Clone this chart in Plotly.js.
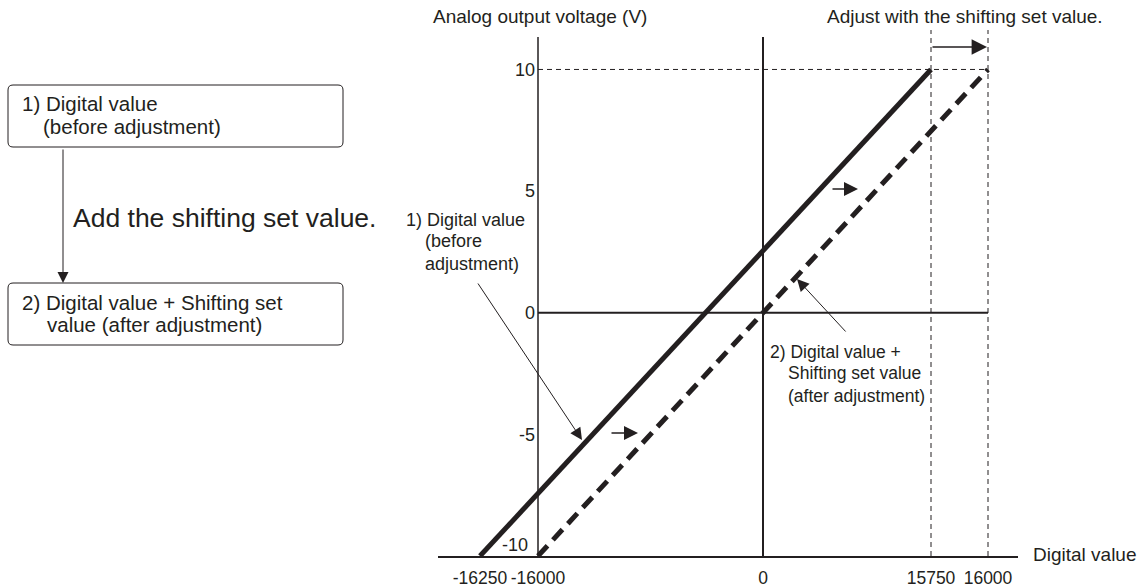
<!DOCTYPE html>
<html>
<head>
<meta charset="utf-8">
<script src="https://cdn.plot.ly/plotly-3.0.1.min.js"></script>
<style>
  body { margin: 0; background: #fff; }
  #chart { width: 1142px; height: 588px; }
</style>
</head>
<body>
<div id="chart"></div>
<script>
// digital values marked on the x axis and where they sit on the drawing (not to scale)
var digitalTicks = [-16250, -16000, 0, 15750, 16000];
var drawnAt = [-20124, -16000, 0, 11947, 16000];
var voltTicks = [-5, 0, 5, 10];

// 1) before adjustment and 2) after adding the shifting set value
var beforeDigital = [-16250, 15750];
var afterDigital = [-16000, 16000];
var outputVolt = [-10, 10];

var ink = '#231f20';
var font = 'Liberation Sans, Arial, sans-serif';

function place(d) {
    return drawnAt[digitalTicks.indexOf(d)];
}

// plot area in page pixels
var L = 438, R = 1018, T = 30, B = 556;
function px(x) { return (x - L) / (R - L); }
function py(y) { return (B - y) / (B - T); }

function roundBox(x0, y0, x1, y1, r) {
    var p = function (x, y) { return px(x) + ',' + py(y); };
    return 'M' + p(x0 + r, y0) + ' L' + p(x1 - r, y0) + ' Q' + p(x1, y0) + ' ' + p(x1, y0 + r) +
        ' L' + p(x1, y1 - r) + ' Q' + p(x1, y1) + ' ' + p(x1 - r, y1) +
        ' L' + p(x0 + r, y1) + ' Q' + p(x0, y1) + ' ' + p(x0, y1 - r) +
        ' L' + p(x0, y0 + r) + ' Q' + p(x0, y0) + ' ' + p(x0 + r, y0) + ' Z';
}

function label(text, x, y, size, anchor) {
    return {
        text: text, xref: 'paper', yref: 'paper', x: px(x), y: py(y),
        xanchor: anchor || 'left', yanchor: 'middle', align: 'left', showarrow: false,
        font: {family: font, size: size, color: ink}
    };
}

function arrow(x0, y0, x1, y1, size, width) {
    return {
        text: '', xref: 'paper', yref: 'paper', x: px(x1), y: py(y1),
        ax: x0 - x1, ay: y0 - y1, showarrow: true,
        arrowhead: 2, arrowsize: size, arrowwidth: width, arrowcolor: ink
    };
}

var before = {
    x: beforeDigital.map(place),
    y: outputVolt,
    mode: 'lines',
    line: {color: ink, width: 5},
    hoverinfo: 'skip'
};

var after = {
    x: afterDigital.map(place),
    y: outputVolt,
    mode: 'lines',
    line: {color: ink, width: 5, dash: '14px,8px'},
    hoverinfo: 'skip'
};

var data = [before, after];

var shapes = [
    // zero lines and left axis
    {type: 'line', xref: 'x', yref: 'y', x0: place(-16000), x1: place(16000), y0: 0, y1: 0,
        line: {color: ink, width: 2}, layer: 'below'},
    {type: 'line', xref: 'x', yref: 'y', x0: 0, x1: 0, y0: -10, y1: 11.33,
        line: {color: ink, width: 2}, layer: 'below'},
    {type: 'line', xref: 'x', yref: 'y', x0: place(-16000), x1: place(-16000), y0: -10, y1: 11.33,
        line: {color: ink, width: 1.5}, layer: 'below'},
    // dashed guides
    {type: 'line', xref: 'x', yref: 'y', x0: place(-16000), x1: place(16000), y0: 10, y1: 10,
        line: {color: ink, width: 1, dash: '5px,4px'}, layer: 'below'},
    {type: 'line', xref: 'x', yref: 'paper', x0: place(15750), x1: place(15750), y0: 0, y1: 1,
        line: {color: ink, width: 1, dash: '5px,4px'}, layer: 'below'},
    {type: 'line', xref: 'x', yref: 'paper', x0: place(16000), x1: place(16000), y0: 0, y1: 1,
        line: {color: ink, width: 1, dash: '5px,4px'}, layer: 'below'},
    // flow boxes on the left
    {type: 'path', xref: 'paper', yref: 'paper', path: roundBox(8, 85, 343, 147, 5),
        line: {color: ink, width: 1}},
    {type: 'path', xref: 'paper', yref: 'paper', path: roundBox(8, 283, 343, 345, 5),
        line: {color: ink, width: 1}}
];

var annotations = [
    label('Analog output voltage (V)', 649, 17, 19, 'right'),
    label('Adjust with the shifting set value.', 1105, 17, 19, 'right'),
    label('Digital value', 1031, 554, 19),
    label('-10', 530, 545, 18, 'right'),
    label('1) Digital value', 404, 220, 18),
    label('(before<br>adjustment)', 423, 252.5, 18),
    label('2) Digital value +', 768, 352, 17.5),
    label('Shifting set value<br>(after adjustment)', 786, 384, 17.5),
    label('1) Digital value', 20, 104, 20.5),
    label('(before adjustment)', 41, 126, 20.5),
    label('2) Digital value + Shifting set', 20, 302, 20.5),
    label('value (after adjustment)', 45, 324, 20.5),
    label('Add the shifting set value.', 71, 218, 26.5),
    arrow(931, 47, 987, 47, 2.2, 1.4),
    arrow(831, 189, 858, 189, 2, 1.4),
    arrow(610, 433, 638, 433, 2, 1.4),
    arrow(477, 282, 582, 440, 2.4, 1),
    arrow(847, 333, 797, 279, 2.4, 1),
    arrow(63, 148, 63, 283, 2.2, 1)
];

var layout = {
    width: 1142,
    height: 588,
    margin: {l: L, r: 1142 - R, t: T, b: 588 - B},
    paper_bgcolor: '#fff',
    plot_bgcolor: '#fff',
    showlegend: false,
    font: {family: font, color: ink},
    xaxis: {
        range: [-23111, 18133],
        tickvals: drawnAt,
        ticktext: digitalTicks.map(String),
        tickangle: 0,
        showgrid: false, zeroline: false,
        showline: true, linecolor: ink, linewidth: 1.5,
        ticks: '', ticklabelstandoff: 5,
        tickfont: {size: 17.5, color: ink},
        fixedrange: true
    },
    yaxis: {
        range: [-10, 11.622],
        tickvals: voltTicks,
        ticktext: voltTicks.map(String),
        anchor: 'free', position: 0.1724,
        showgrid: false, zeroline: false, showline: false,
        ticks: '', ticklabelstandoff: 3,
        tickfont: {size: 18, color: ink},
        fixedrange: true
    },
    shapes: shapes,
    annotations: annotations
};

Plotly.newPlot('chart', data, layout, {displayModeBar: false, staticPlot: true});
</script>
</body>
</html>
